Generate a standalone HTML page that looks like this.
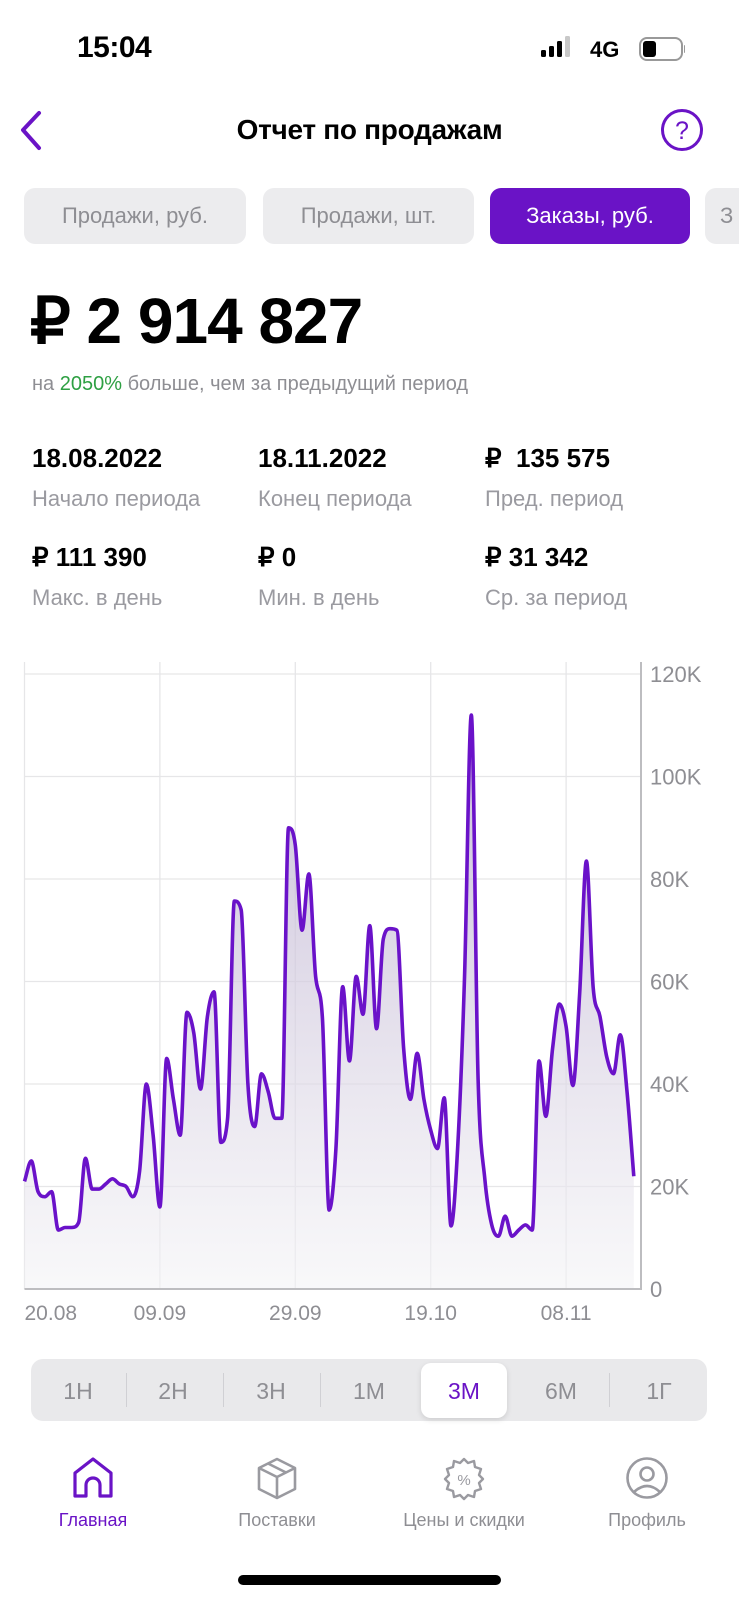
<!DOCTYPE html>
<html><head><meta charset="utf-8">
<style>
*{margin:0;padding:0;box-sizing:border-box}
body{width:739px;height:1600px;background:#fff;position:relative;overflow:hidden;font-family:"Liberation Sans","Noto Sans CJK SC",sans-serif;color:#000}
.abs{position:absolute}
.tab{position:absolute;top:188px;height:56px;border-radius:11px;background:#ececee;color:#8e8e93;font-size:22px;display:flex;align-items:center;justify-content:center;white-space:nowrap;overflow:hidden}
.val{position:absolute;font-size:26px;font-weight:bold;white-space:nowrap}
.lbl{position:absolute;font-size:22px;color:#9a9aa0;white-space:nowrap}
.seg{position:absolute;top:1376px;font-size:23px;color:#8e8e93;width:80px;text-align:center;line-height:30px}
.sep{position:absolute;top:1373px;width:1px;height:34px;background:#d0d0d4}
.nav{position:absolute;top:1510px;font-size:18px;color:#8e8e93;text-align:center;width:160px;white-space:nowrap}
</style></head><body>
<div class="abs" style="left:77px;top:31px;font-size:30px;font-weight:bold;letter-spacing:-0.5px">15:04</div>
<svg class="abs" style="left:535px;top:34px" width="150" height="34">
 <rect x="6" y="16" width="5" height="7" rx="1.5" fill="#000"/><rect x="14" y="12" width="5" height="11" rx="1.5" fill="#000"/><rect x="22" y="7" width="5" height="16" rx="1.5" fill="#000"/><rect x="30" y="2" width="5" height="21" rx="1.5" fill="#c8c8c8"/>
 <text x="55" y="23" font-size="22" font-family="Liberation Sans" font-weight="bold">4G</text>
 <rect x="105" y="4" width="42" height="22" rx="7" fill="none" stroke="#999" stroke-width="2"/><rect x="108" y="7" width="13" height="16" rx="3" fill="#000"/><rect x="149" y="11" width="2" height="8" rx="1" fill="#999"/>
</svg>
<svg class="abs" style="left:14px;top:108px" width="34" height="46"><path d="M25 5 L9 22 L25 40" fill="none" stroke="#6a13c6" stroke-width="4" stroke-linecap="round" stroke-linejoin="round"/></svg>
<div class="abs" style="left:0;width:739px;top:114px;text-align:center;font-size:28px;font-weight:bold;letter-spacing:-0.3px">Отчет по продажам</div>
<svg class="abs" style="left:659px;top:107px" width="46" height="46"><circle cx="23" cy="23" r="19.5" fill="none" stroke="#6a13c6" stroke-width="3"/><text x="23" y="32" text-anchor="middle" font-size="25" fill="#6a13c6" font-family="Liberation Sans">?</text></svg>
<div class="tab" style="left:24px;width:222px">Продажи, руб.</div>
<div class="tab" style="left:263px;width:211px">Продажи, шт.</div>
<div class="tab" style="left:490px;width:200px;background:#6a13c6;color:#fff">Заказы, руб.</div>
<div class="tab" style="left:705px;width:34px;border-radius:11px 0 0 11px;justify-content:flex-start;padding-left:15px">З</div>
<div class="abs" style="left:30px;top:284px;font-size:64px;font-weight:bold;letter-spacing:-1px;white-space:nowrap">₽ 2 914 827</div>
<div class="abs" style="left:32px;top:373px;font-size:20px;color:#8e8e93;white-space:nowrap">на <span style="color:#2ea043">2050%</span> больше, чем за предыдущий период</div>
<div class="val" style="left:32px;top:443px">18.08.2022</div>
<div class="lbl" style="left:32px;top:486px">Начало периода</div>
<div class="val" style="left:258px;top:443px">18.11.2022</div>
<div class="lbl" style="left:258px;top:486px">Конец периода</div>
<div class="val" style="left:485px;top:443px">₽&nbsp; 135 575</div>
<div class="lbl" style="left:485px;top:486px">Пред. период</div>
<div class="val" style="left:32px;top:542px">₽ 111 390</div>
<div class="lbl" style="left:32px;top:585px">Макс. в день</div>
<div class="val" style="left:258px;top:542px">₽ 0</div>
<div class="lbl" style="left:258px;top:585px">Мин. в день</div>
<div class="val" style="left:485px;top:542px">₽ 31 342</div>
<div class="lbl" style="left:485px;top:585px">Ср. за период</div>

<svg id="chart" class="abs" style="left:0;top:0" width="739" height="1340">
 <defs><linearGradient id="fillg" x1="0" y1="0" x2="0" y2="1"><stop offset="0" stop-color="#b7a9cc" stop-opacity="0.75"/><stop offset="1" stop-color="#f4f4f6" stop-opacity="0.6"/></linearGradient></defs>
 <g id="grid"></g><path id="area" fill="url(#fillg)"/><path id="line" fill="none" stroke="#6a12c9" stroke-width="3.6" stroke-linejoin="round"/><g id="axes"></g>
</svg>
<script>
const values=[21,25,19,18,19,11.5,12,12,13,25.5,19.5,19.5,20.5,21.5,20.5,20,18,23,40,30,16,45,37,30,54,50,39,53,58,28.6,33.3,75.7,74,40,31.7,42,38.5,33.3,33.3,90,86.6,70,81,61,53,15.4,27.4,59,44.5,61,53.6,70.9,50.8,68.3,70.3,70,47,37,46,37,31,27.4,37.3,12.3,28,61,112,41,21.4,12.6,10.3,14.2,10.3,11.5,12.5,11.5,44.5,33.7,46.9,55.6,51.2,39.7,57.6,83.5,58.8,53.2,45.3,42,49.6,38.5,22];
const yTicks=[0,20,40,60,80,100,120];
const yTickLabels=["0","20K","40K","60K","80K","100K","120K"];
const xTickDays=[0,20,40,60,80];
const xTickLabels=["20.08","09.09","29.09","19.10","08.11"];
const X0=24.5,DX=6.77,Y0=1289,KY=5.125,XR=641,YT=662;
const xs=d=>X0+d*DX, ys=v=>Y0-v*KY;
const NS="http://www.w3.org/2000/svg";
const grid=document.getElementById('grid'),axes=document.getElementById('axes');
function mk(tag,attrs,parent){const e=document.createElementNS(NS,tag);for(const k in attrs)e.setAttribute(k,attrs[k]);parent.appendChild(e);return e;}
yTicks.forEach((t,i)=>{
 const l=mk('line',{x1:X0,x2:XR,y1:ys(t),y2:ys(t),stroke:'#e6e6e8','stroke-width':1.3},grid);
 
 
 const tx=mk('text',{x:650,y:ys(t)+8,'font-size':22,fill:'#8e8e93','font-family':'Liberation Sans'},axes);
 tx.textContent=yTickLabels[i];
 
 
});
xTickDays.forEach((d,i)=>{
 const l=mk('line',{x1:xs(d),x2:xs(d),y1:YT,y2:Y0,stroke:'#e6e6e8','stroke-width':1.3},grid);
 
 
 const tx=mk('text',{x:i===0?X0:xs(d),y:1320,'font-size':21,fill:'#8e8e93','font-family':'Liberation Sans','text-anchor':i===0?'start':'middle'},axes);
 tx.textContent=xTickLabels[i];
 
 
});
const ax=mk('path',{d:`M${X0} ${Y0}H${XR}V${YT}`,fill:'none',stroke:'#bdbdc0','stroke-width':2},axes);


const n=values.length,px=values.map((v,i)=>xs(i)),py=values.map(v=>ys(v));
const dl=[],m=[];
for(let i=0;i<n-1;i++)dl.push((py[i+1]-py[i])/(px[i+1]-px[i]));
m[0]=dl[0];m[n-1]=dl[n-2];
for(let i=1;i<n-1;i++){m[i]=(dl[i-1]*dl[i]<=0)?0:(dl[i-1]+dl[i])/2;}
for(let i=0;i<n-1;i++){if(dl[i]===0){m[i]=0;m[i+1]=0;continue;}const a=m[i]/dl[i],b=m[i+1]/dl[i],s=a*a+b*b;if(s>9){const t=3/Math.sqrt(s);m[i]=t*a*dl[i];m[i+1]=t*b*dl[i];}}
let d=`M${px[0]} ${py[0]}`;
for(let i=0;i<n-1;i++){const h=(px[i+1]-px[i])/3;d+=`C${px[i]+h} ${py[i]+m[i]*h} ${px[i+1]-h} ${py[i+1]-m[i+1]*h} ${px[i+1]} ${py[i+1]}`;}
const line=document.getElementById('line');line.setAttribute('d',d);


const area=document.getElementById('area');area.setAttribute('d',d+`L${px[n-1]} ${Y0}L${px[0]} ${Y0}Z`);


</script>

<div class="abs" style="left:31px;top:1359px;width:676px;height:62px;border-radius:12px;background:#e9e9eb"></div>
<div class="abs" style="left:421px;top:1363px;width:86px;height:55px;border-radius:10px;background:#fff;box-shadow:0 2px 6px rgba(0,0,0,0.12)"></div>
<div class="sep" style="left:126px"></div>
<div class="sep" style="left:223px"></div>
<div class="sep" style="left:320px"></div>
<div class="sep" style="left:609px"></div>
<div class="seg" style="left:38px">1Н</div>
<div class="seg" style="left:133px">2Н</div>
<div class="seg" style="left:231px">3Н</div>
<div class="seg" style="left:329px">1М</div>
<div class="seg" style="left:424px;color:#6a13c6">3М</div>
<div class="seg" style="left:521px">6М</div>
<div class="seg" style="left:619px">1Г</div>

<svg class="abs" style="left:71px;top:1456px" width="44" height="44"><path d="M4 40 V17 L22 3 L40 17 V40 H29 V29 A7 7 0 0 0 15 29 V40 Z" fill="none" stroke="#6a13c6" stroke-width="3.2" stroke-linejoin="round"/></svg>
<svg class="abs" style="left:255px;top:1456px" width="44" height="46"><path d="M22 3 L40 12 V33 L22 42 L4 33 V12 Z M4 12 L22 21 L40 12 M22 21 V42 M13 7.5 L31 16.5" fill="none" stroke="#9a9aa0" stroke-width="2.6" stroke-linejoin="round"/></svg>
<svg class="abs" style="left:441px;top:1456px" width="46" height="46"><path d="M23 3 L27 7 L33 5 L34 11 L40 13 L38 19 L42 23 L38 27 L40 33 L34 35 L33 41 L27 39 L23 43 L19 39 L13 41 L12 35 L6 33 L8 27 L4 23 L8 19 L6 13 L12 11 L13 5 L19 7 Z" fill="none" stroke="#9a9aa0" stroke-width="2.4" stroke-linejoin="round"/><text x="23" y="29" text-anchor="middle" font-size="15" fill="#9a9aa0" font-family="Liberation Sans">%</text></svg>
<svg class="abs" style="left:625px;top:1456px" width="44" height="44"><circle cx="22" cy="22" r="19.5" fill="none" stroke="#9a9aa0" stroke-width="2.6"/><circle cx="22" cy="18" r="6.5" fill="none" stroke="#9a9aa0" stroke-width="2.6"/><path d="M9 36 Q22 24 35 36" fill="none" stroke="#9a9aa0" stroke-width="2.6"/></svg>
<div class="nav" style="left:13px;color:#6a13c6">Главная</div>
<div class="nav" style="left:197px">Поставки</div>
<div class="nav" style="left:384px">Цены и скидки</div>
<div class="nav" style="left:567px">Профиль</div>
<div class="abs" style="left:238px;top:1575px;width:263px;height:10px;border-radius:5px;background:#000"></div>
</body></html>
